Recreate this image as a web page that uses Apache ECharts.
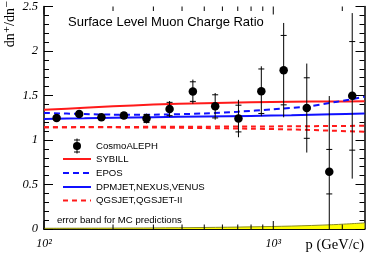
<!DOCTYPE html>
<html>
<head>
<meta charset="utf-8">
<script src="https://cdn.jsdelivr.net/npm/echarts@6/dist/echarts.min.js"></script>
<style>
html,body{margin:0;padding:0;background:#fff;}
#chart{width:366px;height:253px;}
</style>
</head>
<body>
<div id="chart"></div>
<script>
// ---- data ----
const energy = [113.5, 142.4, 178, 223, 280, 353, 446, 558, 705, 887, 1110, 1400, 1755, 2210];
const ratio  = [1.248, 1.292, 1.256, 1.274, 1.241, 1.348, 1.544, 1.378, 1.241, 1.548, 1.785, 1.359, 0.644, 1.496];
const totErr = [0.03, 0.03, 0.03, 0.04, 0.055, 0.09, 0.135, 0.15, 0.21, 0.28, 0.53, 0.5, 0.85, 0.93];
const statErr= [0.02, 0.02, 0.02, 0.03, 0.045, 0.075, 0.11, 0.13, 0.15, 0.25, 0.39, 0.34, 0.25, 0.61];

const modelE  = [100, 150, 200, 300, 500, 800, 1200, 1800, 2500];
const sybill  = [1.340, 1.362, 1.378, 1.398, 1.413, 1.424, 1.430, 1.433, 1.434];
const dpmjet  = [1.237, 1.244, 1.250, 1.257, 1.264, 1.271, 1.278, 1.288, 1.297];
const qgsjet  = [1.144, 1.145, 1.146, 1.148, 1.150, 1.152, 1.154, 1.157, 1.160];
const qgsjet2 = [1.144, 1.143, 1.142, 1.140, 1.134, 1.127, 1.118, 1.105, 1.092];
const mcBand  = [0.008, 0.009, 0.010, 0.012, 0.017, 0.024, 0.033, 0.048, 0.068];

const eposE = [100, 150, 200, 300, 500, 700, 1000, 1400, 1900, 2500];
const epos  = [1.304, 1.292, 1.285, 1.285, 1.298, 1.318, 1.345, 1.376, 1.430, 1.485];

const xMajorTicks = [100, 1000];
const xMinorTicks = [200, 300, 400, 500, 600, 700, 800, 900, 2000];
const yTicks = [0, 0.5, 1, 1.5, 2, 2.5];

const titleText = 'Surface Level Muon Charge Ratio';
const legendNames = ['CosmoALEPH', 'SYBILL', 'EPOS', 'DPMJET,NEXUS,VENUS', 'QGSJET,QGSJET-II'];
const bandNote = 'error band for MC predictions';

// ---- chart ----
const RED = '#ff1a1a', BLUE = '#1010ff';
const chart = echarts.init(document.getElementById('chart'), null, {renderer: 'canvas'});
const pairs = (xs, ys) => xs.map((x, i) => [x, ys[i]]);
const serif = '"Liberation Serif", "DejaVu Serif", serif';
const sans = '"Liberation Sans", Arial, sans-serif';
const YMIN = yTicks[0], YMAX = yTicks[yTicks.length - 1];

const axisLineStyle = {show: true, lineStyle: {color: '#000', width: 1.5}};
const yAxisBase = {
  type: 'value', min: YMIN, max: YMAX, interval: 0.5,
  axisLine: axisLineStyle,
  axisTick: {show: true, inside: true, length: 9, lineStyle: {color: '#000', width: 1}},
  minorTick: {show: true, splitNumber: 5, length: 5, lineStyle: {color: '#000', width: 1}},
  splitLine: {show: false}, minorSplitLine: {show: false}
};

function tickRender(len) {
  return function (params, api) {
    const v = api.value(0);
    const b = api.coord([v, YMIN]);
    const t = api.coord([v, YMAX]);
    return {
      type: 'group',
      children: [
        {type: 'line', shape: {x1: b[0], y1: b[1], x2: b[0], y2: b[1] - len}, style: {stroke: '#000', lineWidth: 1}},
        {type: 'line', shape: {x1: t[0], y1: t[1], x2: t[0], y2: t[1] + len}, style: {stroke: '#000', lineWidth: 1}}
      ]
    };
  };
}

const legendX1 = 63, legendX2 = 91, legendTextX = 96;
const legendY = [146, 159, 173, 187, 200.5];
const lg = [];
// CosmoALEPH entry
lg.push({type: 'line', shape: {x1: 77, y1: 138.5, x2: 77, y2: 153.5}, style: {stroke: '#000', lineWidth: 1}});
lg.push({type: 'line', shape: {x1: 74, y1: 140, x2: 80, y2: 140}, style: {stroke: '#000', lineWidth: 1}});
lg.push({type: 'line', shape: {x1: 74, y1: 152, x2: 80, y2: 152}, style: {stroke: '#000', lineWidth: 1}});
lg.push({type: 'circle', shape: {cx: 77, cy: legendY[0], r: 4}, style: {fill: '#000'}});
const lgStyles = [null,
  {stroke: RED, lineWidth: 2},
  {stroke: BLUE, lineWidth: 2, lineDash: [6, 4]},
  {stroke: BLUE, lineWidth: 2},
  {stroke: RED, lineWidth: 2, lineDash: [5, 4]}];
for (let i = 1; i < 5; i++) {
  lg.push({type: 'line', shape: {x1: legendX1, y1: legendY[i], x2: legendX2, y2: legendY[i]}, style: lgStyles[i]});
}
for (let i = 0; i < 5; i++) {
  lg.push({type: 'text', x: legendTextX, y: legendY[i],
    style: {text: legendNames[i], font: '9.6px ' + sans, fill: '#000', align: 'left', verticalAlign: 'middle', textAlign: 'left', textVerticalAlign: 'middle'}});
}
lg.push({type: 'text', x: 57, y: 220,
  style: {text: bandNote, font: '9.6px ' + sans, fill: '#000', align: 'left', verticalAlign: 'middle', textAlign: 'left', textVerticalAlign: 'middle'}});
// title
lg.push({type: 'text', x: 68, y: 22,
  style: {text: titleText, font: '13px ' + sans, fill: '#000', align: 'left', verticalAlign: 'middle', textAlign: 'left', textVerticalAlign: 'middle'}});
// axis titles
lg.push({type: 'text', x: 364, y: 245.5,
  style: {text: 'p (GeV/c)', font: '14.5px ' + serif, fill: '#000', align: 'right', verticalAlign: 'middle', textAlign: 'right', textVerticalAlign: 'middle'}});
lg.push({type: 'text', x: 10, y: 24, rotation: Math.PI / 2,
  style: {text: 'dn\u207A/dn\u207B', font: '14px ' + serif, fill: '#000', align: 'center', verticalAlign: 'middle', textAlign: 'center', textVerticalAlign: 'middle'}});

const option = {
  animation: false,
  backgroundColor: '#fff',
  grid: {left: 44, right: 1.5, top: 4, bottom: 24, containLabel: false, show: false},
  xAxis: [
    {type: 'log', logBase: 10, min: 100, max: 2500, position: 'bottom',
      axisLine: axisLineStyle, axisTick: {show: false}, minorTick: {show: false},
      splitLine: {show: false}, minorSplitLine: {show: false},
      axisLabel: {show: true, margin: 9, color: '#000', fontFamily: serif, fontStyle: 'italic', fontSize: 12,
        showMaxLabel: false,
        formatter: function (v) { const r = Math.round(v); return r === 100 ? '10\u00B2' : (r === 1000 ? '10\u00B3' : ''); }}},
    {type: 'log', logBase: 10, min: 100, max: 2500, position: 'top',
      axisLine: axisLineStyle, axisTick: {show: false}, minorTick: {show: false},
      splitLine: {show: false}, axisLabel: {show: false}}
  ],
  yAxis: [
    Object.assign({}, yAxisBase, {position: 'left',
      axisLabel: {show: true, margin: 6, color: '#000', fontFamily: serif, fontStyle: 'italic', fontSize: 12.5}}),
    Object.assign({}, yAxisBase, {position: 'right', axisLabel: {show: false}})
  ],
  graphic: lg,
  series: [
    {type: 'line', name: 'band', data: pairs(modelE, mcBand), smooth: 0.3, showSymbol: false,
      lineStyle: {color: '#8a8a20', width: 1}, areaStyle: {color: '#ffff00', opacity: 1, origin: 'start'}, z: 1, silent: true},
    {type: 'line', name: 'SYBILL', data: pairs(modelE, sybill), smooth: 0.3, showSymbol: false,
      lineStyle: {color: RED, width: 2}, z: 2},
    {type: 'line', name: 'EPOS', data: pairs(eposE, epos), smooth: 0.3, showSymbol: false,
      lineStyle: {color: BLUE, width: 2, type: [6, 4]}, z: 2},
    {type: 'line', name: 'DPMJET', data: pairs(modelE, dpmjet), smooth: 0.3, showSymbol: false,
      lineStyle: {color: BLUE, width: 2}, z: 2},
    {type: 'line', name: 'QGSJET', data: pairs(modelE, qgsjet), smooth: 0.3, showSymbol: false,
      lineStyle: {color: RED, width: 2, type: [5, 4]}, z: 2},
    {type: 'line', name: 'QGSJET-II', data: pairs(modelE, qgsjet2), smooth: 0.3, showSymbol: false,
      lineStyle: {color: RED, width: 2, type: [5, 4]}, z: 2},
    {type: 'custom', name: 'xMajor', data: xMajorTicks.map(v => [v]), renderItem: tickRender(8), z: 5, silent: true},
    {type: 'custom', name: 'xMinor', data: xMinorTicks.map(v => [v]), renderItem: tickRender(4.5), z: 5, silent: true},
    {type: 'custom', name: 'errors', clip: true, z: 6,
      data: energy.map((e, i) => [e, ratio[i], totErr[i], statErr[i]]),
      renderItem: function (params, api) {
        const x = api.value(0), y = api.value(1), te = api.value(2), se = api.value(3);
        const hi = Math.min(YMAX, y + te), lo = Math.max(YMIN, y - te);
        const pt = api.coord([x, hi]), pb = api.coord([x, lo]);
        const st = api.coord([x, y + se]), sb = api.coord([x, y - se]);
        const s = {stroke: '#000', lineWidth: 1};
        return {type: 'group', children: [
          {type: 'line', shape: {x1: pt[0], y1: pt[1], x2: pb[0], y2: pb[1]}, style: s},
          {type: 'line', shape: {x1: st[0] - 3, y1: st[1], x2: st[0] + 3, y2: st[1]}, style: s},
          {type: 'line', shape: {x1: sb[0] - 3, y1: sb[1], x2: sb[0] + 3, y2: sb[1]}, style: s}
        ]};
      }},
    {type: 'scatter', name: 'CosmoALEPH', data: pairs(energy, ratio), symbol: 'circle', symbolSize: 8.5,
      itemStyle: {color: '#000', opacity: 1}, z: 7}
  ]
};
chart.setOption(option);
</script>
</body>
</html>
